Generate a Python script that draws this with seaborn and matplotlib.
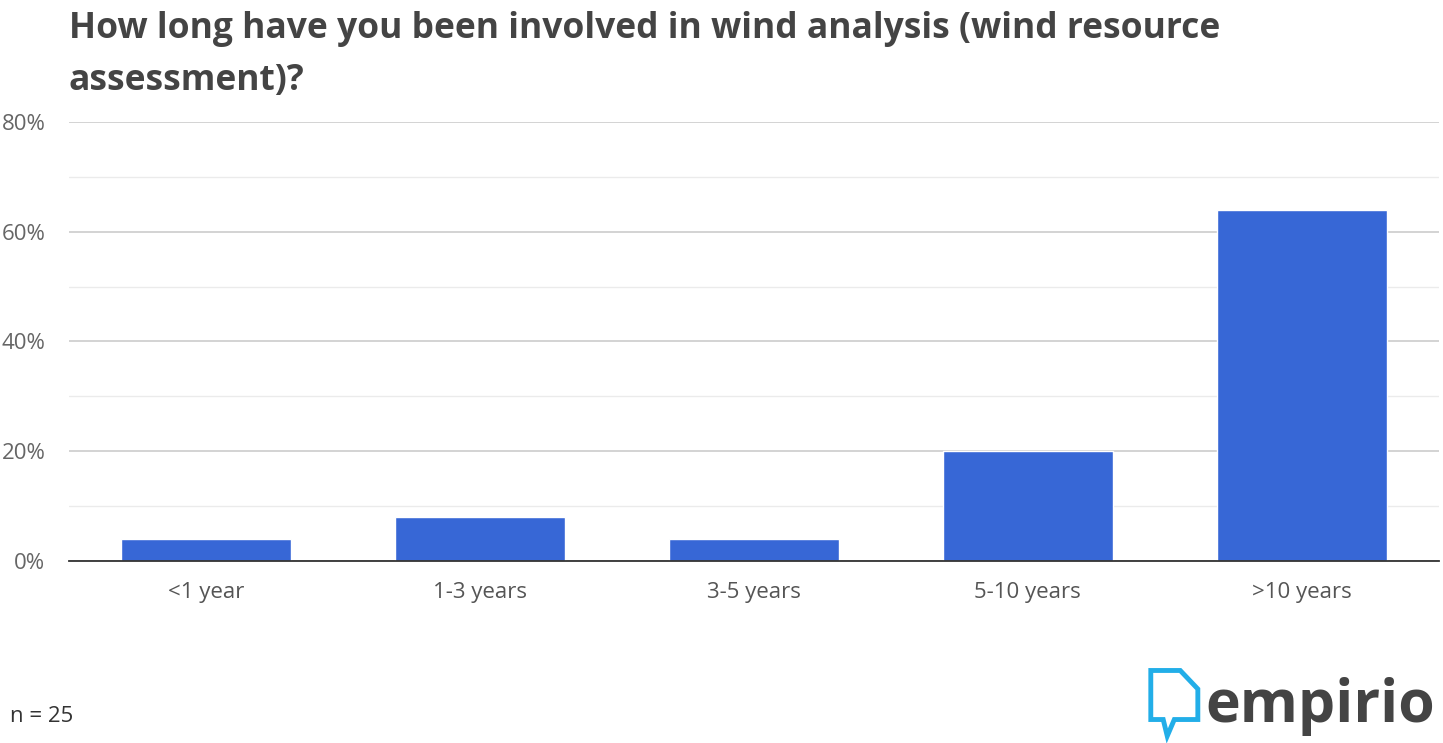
import numpy as np
import pandas as pd
import matplotlib
matplotlib.use("Agg")
import matplotlib.pyplot as plt
import seaborn as sns
from matplotlib.patches import Polygon

# data (n = 25)
categories = ["<1 year", "1-3 years", "3-5 years", "5-10 years", ">10 years"]
shares = [4, 8, 4, 20, 64]
y_ticks = [0, 20, 40, 60, 80]
y_tick_labels = ["0%", "20%", "40%", "60%", "80%"]
title_lines = ["How long have you been involved in wind analysis (wind resource",
               "assessment)?"]
note = "n = 25"

df = pd.DataFrame({"category": categories, "share": shares})

sns.set_theme(style="white")
plt.rcParams["font.family"] = ["Open Sans", "DejaVu Sans"]

fig = plt.figure(figsize=(14.43, 7.43), dpi=100)
ax = fig.add_axes([0.0478, 0.245, 0.9492, 0.591])

sns.barplot(data=df, x="category", y="share", color="#3767D6",
            width=0.62, saturation=1, ax=ax)

ax.set_ylim(0, 80)
ax.set_xlim(-0.5, len(categories) - 0.5)
ax.set_yticks(y_ticks)
ax.set_yticklabels(y_tick_labels)
ax.set_yticks([10, 30, 50, 70], minor=True)
ax.grid(axis="y", which="major", color="#cccccc", linewidth=1.2)
ax.grid(axis="y", which="minor", color="#ebebeb", linewidth=1.0)
ax.set_axisbelow(True)

for s in ["top", "right", "left"]:
    ax.spines[s].set_visible(False)
ax.spines["bottom"].set_color("#333333")
ax.spines["bottom"].set_linewidth(1.3)

ax.tick_params(axis="y", length=0, pad=17, labelsize=16, labelcolor="#666666")
ax.tick_params(axis="x", length=0, pad=15, labelsize=16, labelcolor="#555555")
ax.set_xlabel("")
ax.set_ylabel("")

# title, two lines placed by baseline
fig.text(0.0478, 0.9489, title_lines[0], ha="left", va="baseline",
         fontsize=25.5, fontweight="bold", color="#444444")
fig.text(0.0478, 0.8789, title_lines[1], ha="left", va="baseline",
         fontsize=25.5, fontweight="bold", color="#444444")

fig.text(0.007, 0.028, note, ha="left", va="baseline", fontsize=16,
         color="#333333")

# logo
fig.text(0.8355, 0.028, "empirio", ha="left", va="baseline", fontsize=42.5,
         fontweight="bold", color="#444444")
icon = Polygon([[0.7975, 0.0976], [0.8179, 0.0976], [0.8301, 0.0727],
                [0.8301, 0.0316], [0.8138, 0.0316], [0.8089, 0.0094],
                [0.8061, 0.0316], [0.7975, 0.0316]],
               closed=True, fill=False, edgecolor="#22AEE8", linewidth=3.5,
               joinstyle="miter", transform=fig.transFigure)
fig.patches.append(icon)

fig.savefig("out.png", dpi=100)
